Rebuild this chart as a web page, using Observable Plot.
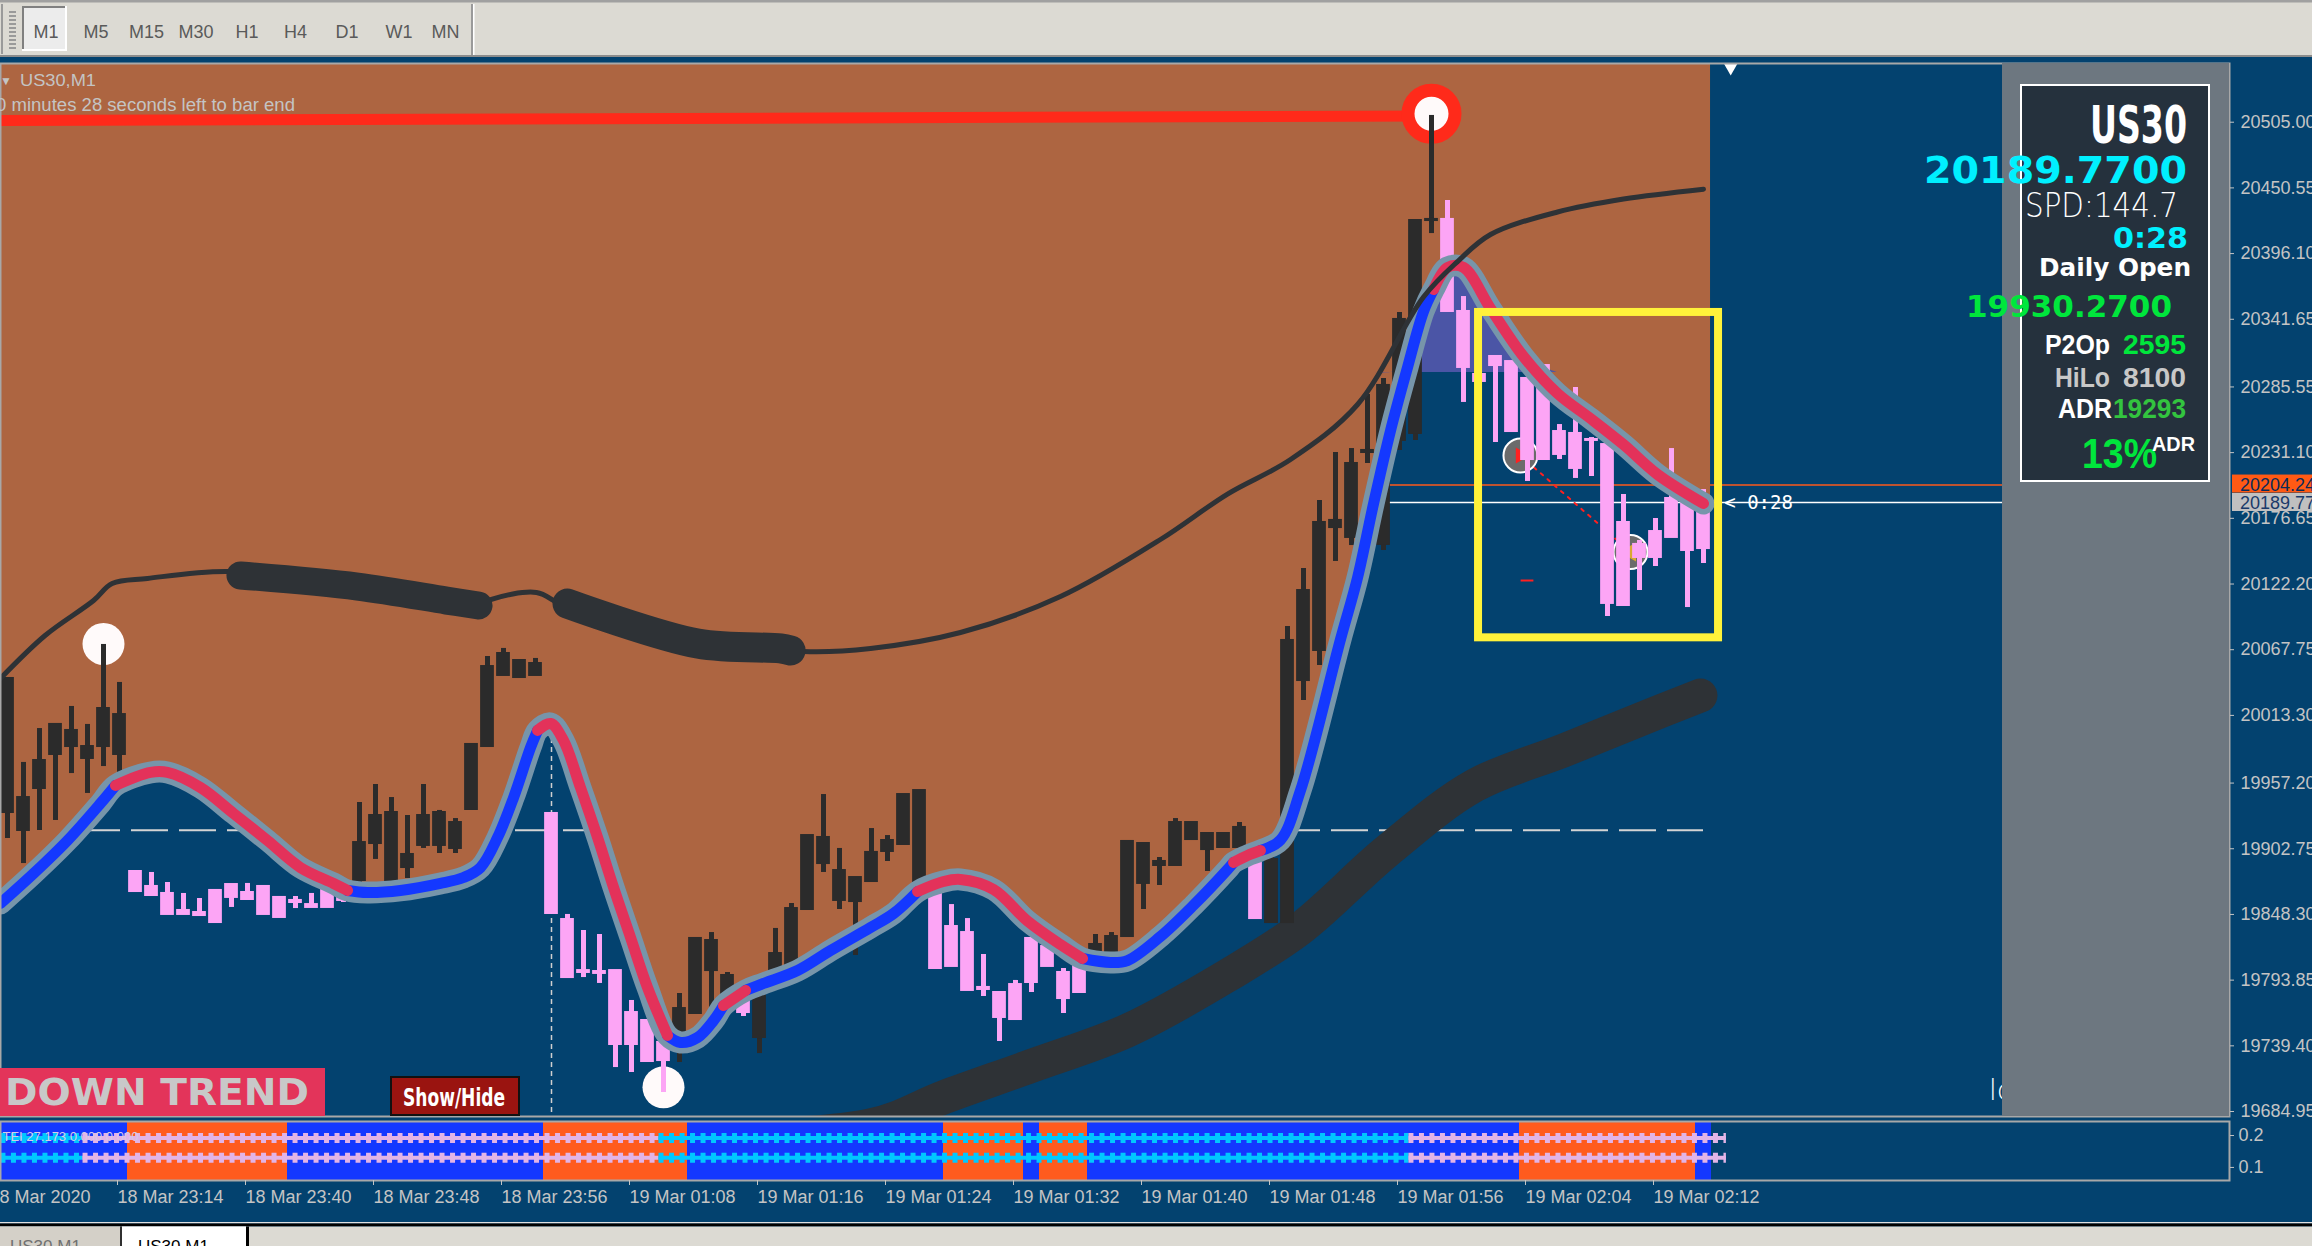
<!DOCTYPE html>
<html>
<head>
<meta charset="utf-8">
<title>US30,M1</title>
<script src="https://cdn.jsdelivr.net/npm/d3@7"></script>
<script src="https://cdn.jsdelivr.net/npm/@observablehq/plot@0.6"></script>
<style>
html,body{margin:0;padding:0;}
body{position:relative;width:2312px;height:1246px;overflow:hidden;background:#03426f;font-family:"Liberation Sans",Arial,sans-serif;}
#main{position:absolute;left:0;top:63px;}
#sub{position:absolute;left:0;top:1116px;}
#overlay{position:absolute;left:0;top:0;}
</style>
</head>
<body>
<div id="main"></div>
<div id="sub"></div>
<script>
// ================= DATA =================
const opens = [19932.8,19917.9,19952.7,19980.9,19987.5,19977.6,19987.5,19980.9,19883.9,19871.5,
19865.7,19851.6,19849.9,19868.2,19873.1,19866.5,19871.5,19862.4,19859.9,19856.5,
19868.2,19865.7,19876.4,19907.1,19876.4,19887.2,19905.5,19905.5,19903.0,19935.3,
19987.5,20046.4,20044.7,20046.4,19932.0,19844.1,19801.8,19801.0,19801.8,19767.0,
19760.4,19742.2,19749.6,19766.2,19801.8,19782.8,19782.8,19746.3,19799.4,19804.3,
19852.4,19890.5,19859.9,19859.0,19875.6,19900.5,19906.3,19874.0,19866.5,19838.3,
19833.3,19787.8,19783.6,19790.2,19828.4,19821.7,19800.2,19805.2,19816.8,19816.8,
19830.0,19874.0,19888.9,19888.9,19910.4,19902.1,19903.8,19903.8,19892.2,19841.6,
19841.6,20042.2,20067.1,20169.0,20160.8,20231.2,20155.0,20241.2,20247.0,20423.5,
20424.4,20348.1,20295.9,20310.8,20306.6,20292.6,20303.3,20248.6,20247.0,20242.0,
20237.8,20173.2,20155.0,20165.7,20193.1,20188.9,20185.6];
const highs = [20043.9,19974.3,20002.4,20005.8,20020.7,20005.8,20072.1,20040.6,19883.9,19883.1,
19874.8,19865.7,19861.5,19868.2,19873.1,19874.0,19871.5,19862.4,19863.2,19865.7,
19868.2,19869.8,19941.1,19956.0,19945.2,19930.3,19956.0,19934.5,19927.8,19989.2,
20062.1,20068.8,20058.8,20060.5,19932.0,19848.3,19835.0,19831.7,19801.8,19777.0,
19760.4,19742.2,19782.8,19828.4,19833.3,19800.2,19782.8,19781.1,19836.7,19857.4,
19913.7,19947.7,19903.0,19878.9,19919.5,19913.7,19947.7,19951.0,19866.5,19856.5,
19844.9,19815.1,19783.6,19793.6,19828.4,19821.7,19803.5,19805.2,19831.7,19833.3,
19908.8,19907.1,19895.5,19927.8,19924.5,19915.4,19915.4,19924.5,19892.2,19911.6,
20087.0,20135.1,20191.4,20231.2,20234.5,20279.3,20292.6,20347.3,20423.5,20510.6,
20440.1,20360.5,20295.9,20310.8,20306.6,20292.6,20303.3,20254.4,20285.1,20243.6,
20237.8,20196.4,20158.3,20176.5,20234.5,20188.9,20200.5];
const lows = [19911.3,19890.5,19917.9,19926.2,19965.1,19948.6,19970.9,19965.1,19867.3,19864.0,
19848.3,19848.3,19847.4,19841.6,19854.1,19860.7,19848.3,19845.8,19853.2,19854.1,
19854.1,19858.2,19874.8,19893.9,19874.8,19878.1,19903.0,19898.8,19898.8,19935.3,
19987.5,20046.4,20044.7,20046.4,19849.1,19796.0,19796.0,19791.1,19721.4,19717.3,
19726.4,19700.7,19725.6,19766.2,19766.2,19782.8,19763.7,19733.0,19796.0,19804.3,
19852.4,19883.1,19852.4,19814.3,19875.6,19892.2,19906.3,19874.0,19803.5,19805.2,
19785.3,19780.3,19743.0,19761.2,19783.6,19805.2,19766.2,19783.6,19816.8,19816.8,
19830.0,19852.4,19872.3,19888.9,19910.4,19883.9,19903.8,19903.8,19844.9,19841.6,
19841.6,20025.6,20054.7,20140.9,20154.1,20222.1,20150.0,20232.9,20241.2,20412.7,
20348.1,20272.7,20290.1,20239.5,20248.6,20207.2,20225.4,20225.4,20209.7,20211.3,
20095.3,20104.4,20116.8,20136.7,20160.8,20102.7,20139.2];
const closes = [20043.9,19945.2,19975.9,20005.8,20000.8,19987.5,20019.0,20014.0,19867.3,19864.0,
19848.3,19848.3,19847.4,19841.6,19862.4,19860.7,19848.3,19845.8,19858.2,19854.1,
19854.1,19859.9,19907.9,19930.3,19932.8,19898.0,19930.3,19932.8,19924.5,19989.2,
20053.8,20064.6,20058.8,20056.3,19849.1,19796.0,19800.2,19799.4,19740.5,19740.5,
19726.4,19727.2,19770.3,19828.4,19826.7,19797.7,19767.0,19781.1,19815.9,19853.2,
19913.7,19912.1,19884.7,19878.9,19899.7,19909.6,19947.7,19951.0,19803.5,19805.2,
19785.3,19786.1,19762.9,19761.2,19791.9,19805.2,19778.6,19783.6,19823.4,19830.0,
19908.8,19907.1,19892.2,19924.5,19924.5,19915.4,19915.4,19920.4,19844.9,19893.9,
20075.4,20116.8,20173.2,20174.9,20222.1,20232.9,20286.8,20341.5,20423.5,20424.4,
20348.1,20301.7,20290.1,20303.3,20248.6,20225.4,20225.4,20229.6,20218.0,20241.2,
20106.1,20104.4,20144.2,20144.2,20160.8,20150.0,20151.6];

const timeTickBars = [-1, 7, 15, 23, 31, 39, 47, 55, 63, 71, 79, 87, 95, 103];
const timeLabels = ["18 Mar 2020","18 Mar 23:14","18 Mar 23:40","18 Mar 23:48","18 Mar 23:56","19 Mar 01:08","19 Mar 01:16","19 Mar 01:24","19 Mar 01:32","19 Mar 01:40","19 Mar 01:48","19 Mar 01:56","19 Mar 02:04","19 Mar 02:12"];
const priceTicks = [20505.00,20450.55,20396.10,20341.65,20285.55,20231.10,20176.65,20122.20,20067.75,20013.30,19957.20,19902.75,19848.30,19793.85,19739.40,19684.95];

// smoothed trend line (knots: bar index, price)
const smoothBars = [-0.44,1.63,3.75,5.81,6.75,8.94,10.0,12.06,14.13,16.25,18.31,20.38,21.25,22.5,24.56,27.06,28.5,29.56,30.63,31.63,32.69,33.13,33.94,34.75,35.81,36.88,37.88,38.94,40.0,41.25,42.06,43.13,44.13,44.75,46.13,47.25,49.38,51.44,53.94,55.38,56.88,58.5,59.56,61.63,63.75,65.81,67.19,68.94,70.0,72.06,74.13,76.25,76.63,77.5,78.31,79.56,80.81,83.31,84.38,85.38,86.44,87.5,88.5,89.13,90.0,91.0,92.69,94.75,96.88,98.94,101.0,103.13,106.0];
const smoothVals = [19857.4,19882.2,19909.6,19940.3,19955.2,19966.0,19966.0,19953.5,19932.0,19909.6,19887.2,19874.0,19868.2,19866.5,19868.2,19874.0,19878.9,19887.2,19912.1,19945.2,19986.7,20000.8,20006.6,19992.5,19953.5,19912.1,19870.6,19829.2,19787.8,19748.0,19742.2,19746.3,19760.4,19772.8,19785.3,19791.1,19801.8,19818.4,19837.5,19849.1,19867.3,19875.6,19877.3,19869.0,19842.9,19823.4,19811.8,19808.5,19810.1,19830.0,19856.0,19885.6,19891.4,19897.2,19901.3,19910.0,19951.0,20076.2,20127.6,20188.9,20249.4,20301.7,20348.1,20366.3,20384.6,20384.6,20350.6,20310.8,20280.1,20259.4,20237.8,20213.0,20188.9];
const redSegments  = [[6.75,21.25],[33.13,41.25],[44.75,46.13],[56.88,67.19],[76.63,78.31],[89.13,106.0]];
const blueSegments = [[-0.44,6.75],[21.25,33.13],[41.25,44.75],[46.13,56.88],[67.19,76.63],[78.31,89.13]];
const brownEndBar = 106.44;   // the shaded zone ends just after the last bar

// thin moving average and its thick stretches
const maBars = [-0.44,2.35,5.38,6.54,8.75,13.81,21.88,27.44,29.56,30.25,33.06,34.75,43.13,48.31,49.75,53.94,59.56,65.81,72.06,76.25,80.19,84.38,88.5,90.63,92.69,96.88,101.0,106.0];
const maVals = [20043.9,20079.5,20108.5,20122.6,20126.8,20132.6,20120.1,20108.5,20104.4,20109.4,20115.2,20104.4,20072.9,20068.8,20066.3,20068.8,20082.0,20111.8,20159.1,20196.8,20225.4,20271.0,20360.1,20389.5,20411.9,20430.6,20441.3,20449.5];
const blob1Bars = [14.56,21.88,27.44,29.44];
const blob1Vals = [20129.3,20120.1,20108.5,20104.4];
const blob2Bars = [35.0,43.13,48.31,48.94];
const blob2Vals = [20106.0,20072.9,20068.8,20067.1];
// slow moving average (thick lower band)
const slowBars = [20.63,37.06,53.94,58.56,64.06,70.0,76.25,80.81,86.19,91.69,97.25,101.88,105.81];
const slowVals = [19660.0,19663.0,19673.5,19697.0,19723.1,19752.1,19797.7,19836.7,19900.5,19955.2,19984.2,20009.1,20029.8];

const resistBars = [-0.44, 89];
const resistVals = [20506.4, 20510.1];
const ask = 20204.24, bid = 20189.77, dailyLevel = 19918.0, purpleLevel = 20297.5;
const sessionBar = 34;
const pivotBars = [6, 41], pivotVals = [20072.5, 19705.0];
const peakBar = 89, peakVal = 20512.0;
const tradeBars = [94.56, 101.44], tradeVals = [20228.7, 20148.7];
const boxBars = [91.94, 106.94], boxVals = [20347.3, 20077.6];

// sub-window (trend strip)
const trendFrom  = [0, 8, 18, 34, 43, 59, 64, 65, 68, 95, 106];
const trendTo    = [7, 17, 33, 42, 58, 63, 64, 67, 94, 105, 106];
const trendState = ["up","down","up","down","up","down","up","down","up","down","up"];
const oscFrom  = [-0.44, 4.69, 40.69, 87.56];
const oscTo    = [4.69, 40.69, 87.56, 107.4];
const oscState = ["up","down","up","down"];
const oscLevels = [0.192, 0.130];
const oscTicks = [0.1, 0.2];
const timeframes = ["M1","M5","M15","M30","H1","H4","D1","W1","MN"];

// ================= BUILD =================
const N = opens.length;
const BROWN = "#ad6541", DARK = "#2b2b2b", PINK = "#fca5f5";
const candles = opens.map((o, i) => ({i, o, h: highs[i], l: lows[i], c: closes[i], col: closes[i] >= o ? DARK : PINK}));
const pts = (bs, vs) => bs.map((b, k) => ({b, v: vs[k]}));
const knots = pts(smoothBars, smoothVals);
const brownKnots = knots.concat([{b: brownEndBar, v: smoothVals[smoothVals.length - 1]}]);
const segRows = segs => segs.flatMap(([a, z], s) => knots.filter(k => k.b >= a - 1e-6 && k.b <= z + 1e-6).map(k => ({...k, s})));
const yTop = 20553.66, yBot = 19680.82;
const xDomain = [-7 / 16, 2222 / 16];
const CURVE = "catmull-rom";
const baseStyle = {background: "transparent", overflow: "visible", fontFamily: "'Liberation Sans', Arial, sans-serif"};

const mainPlot = Plot.plot({
  width: 2312, height: 1053,
  marginTop: 0, marginBottom: 0, marginLeft: 0, marginRight: 83,
  x: {domain: xDomain, axis: null},
  y: {domain: [yBot, yTop]},
  color: {type: "identity"},
  style: baseStyle,
  marks: [
    Plot.ruleY([ask], {stroke: "#ff5a1a", strokeWidth: 1.5}),
    Plot.ruleY([bid], {stroke: "#ffffff", strokeWidth: 1.5}),
    Plot.ruleY([dailyLevel], {x1: 4.75, x2: N - 1, stroke: "#d4d4d4", strokeWidth: 2, strokeDasharray: "37,11"}),
    Plot.ruleX([sessionBar], {stroke: "#cfcfcf", strokeWidth: 1.5, strokeDasharray: "5,4"}),
    Plot.areaY(brownKnots, {x: "b", y1: "v", y2: yTop, curve: CURVE, fill: BROWN}),
    Plot.areaY(knots.filter(k => k.b >= 85 && k.b <= 98), {x: "b", y1: purpleLevel, y2: d => Math.max(d.v, purpleLevel), curve: CURVE, fill: "#4b55a6"}),
    Plot.line(pts(slowBars, slowVals), {x: "b", y: "v", curve: CURVE, stroke: "#2e3236", strokeWidth: 34, strokeLinecap: "round", clip: true}),
    Plot.line(pts(resistBars, resistVals), {x: "b", y: "v", stroke: "#ff2a1a", strokeWidth: 11}),
    Plot.dot(pts(pivotBars, pivotVals), {x: "b", y: "v", r: 21, fill: "#fffafa"}),
    Plot.dot([{b: peakBar, v: peakVal}], {x: "b", y: "v", r: 23.5, fill: "#fffafa", stroke: "#ff2a1a", strokeWidth: 13}),
    Plot.line(pts(tradeBars, tradeVals), {x: "b", y: "v", stroke: "#ff2020", strokeWidth: 2, strokeDasharray: "3,6"}),
    Plot.dot(pts(tradeBars, tradeVals), {x: "b", y: "v", r: 17, fill: "#6b6b6b", stroke: "#ffffff", strokeWidth: 2}),
    Plot.dot([{b: tradeBars[0], v: tradeVals[0]}], {x: "b", y: "v", symbol: "triangle", rotate: 90, r: 6, fill: "#ff2020"}),
    Plot.dot([{b: tradeBars[1], v: tradeVals[1]}], {x: "b", y: "v", symbol: "triangle", rotate: -90, r: 7, fill: "#d9a832"}),
    Plot.ruleY([20125.1], {x1: 94.6, x2: 95.4, stroke: "#ff2020", strokeWidth: 2}),
    Plot.ruleX(candles, {x: "i", y1: "l", y2: "h", stroke: "col", strokeWidth: 5}),
    Plot.rect(candles, {x1: d => d.i - 0.43, x2: d => d.i + 0.43, y1: d => Math.min(d.o, d.c), y2: d => Math.max(d.o, d.c), fill: "col", insetTop: -1, insetBottom: -1}),
    Plot.line(knots, {x: "b", y: "v", curve: CURVE, stroke: "#7795aa", strokeWidth: 22, strokeLinecap: "round", strokeLinejoin: "round"}),
    Plot.line(segRows(blueSegments), {x: "b", y: "v", z: "s", curve: CURVE, stroke: "#1438ff", strokeWidth: 11}),
    Plot.line(segRows(redSegments), {x: "b", y: "v", z: "s", curve: CURVE, stroke: "#e3325a", strokeWidth: 11}),
    Plot.line(pts(maBars, maVals), {x: "b", y: "v", curve: CURVE, stroke: "#2e3236", strokeWidth: 5}),
    Plot.line(pts(blob1Bars, blob1Vals), {x: "b", y: "v", curve: CURVE, stroke: "#2e3236", strokeWidth: 28, strokeLinecap: "round"}),
    Plot.line(pts(blob2Bars, blob2Vals), {x: "b", y: "v", curve: CURVE, stroke: "#2e3236", strokeWidth: 30, strokeLinecap: "round"}),
    Plot.rect([{x1: boxBars[0], x2: boxBars[1], y1: boxVals[1], y2: boxVals[0]}], {x1: "x1", x2: "x2", y1: "y1", y2: "y2", fill: "none", stroke: "#fff23a", strokeWidth: 8}),
    Plot.text([{b: 107.3, v: bid, t: "< 0:28"}], {x: "b", y: "v", text: "t", fill: "#ffffff", fontSize: 19, textAnchor: "start", fontFamily: "'DejaVu Sans Mono', monospace"}),
    Plot.dot([{b: 107.7, v: 20550.2}], {x: "b", y: "v", symbol: "triangle", rotate: 180, r: 5, fill: "#ffffff"}),
    Plot.frame({stroke: "#a8a8a8", strokeWidth: 2}),
    Plot.axisY(priceTicks, {anchor: "right", tickSize: 4, tickPadding: 7, tickFormat: d => d.toFixed(2), color: "#c4c4c4", fontSize: 18, label: null})
  ]
});
document.getElementById("main").append(mainPlot);

const trendRows = trendFrom.map((f, k) => ({x1: f - 0.5, x2: trendTo[k] + 0.5, c: trendState[k] === "down" ? "#ff5b1e" : "#1438ff"}));
const oscRows = [];
oscFrom.forEach((f, k) => oscLevels.forEach((L, j) => {
  const c = oscState[k] === "down" ? "#e2b4e6" : "#00c8ff";
  oscRows.push({x: f, y: L, z: k + "_" + j, c}, {x: oscTo[k], y: L, z: k + "_" + j, c});
}));

const subPlot = Plot.plot({
  width: 2312, height: 106,
  marginTop: 5, marginBottom: 42, marginLeft: 0, marginRight: 83,
  x: {domain: xDomain},
  y: {domain: [0.059, 0.244]},
  color: {type: "identity"},
  style: baseStyle,
  marks: [
    Plot.rect(trendRows, {x1: "x1", x2: "x2", y1: 0.059, y2: 0.244, fill: "c"}),
    Plot.line(oscRows, {x: "x", y: "y", z: "z", stroke: "c", strokeWidth: 4, strokeLinecap: "butt"}),
    Plot.line(oscRows, {x: "x", y: "y", z: "z", stroke: "c", strokeWidth: 10, strokeDasharray: "5,5.5", strokeLinecap: "butt"}),
    Plot.text(["TEI 27.173 0.000 0.000"], {frameAnchor: "top-left", dx: 2, dy: 10, text: d => d, fill: "#d8c8e6", fontSize: 13, textAnchor: "start"}),
    Plot.frame({stroke: "#a8a8a8", strokeWidth: 2}),
    Plot.axisY(oscTicks, {anchor: "right", tickSize: 4, tickPadding: 5, tickFormat: d => d.toFixed(1), color: "#c4c4c4", fontSize: 18, label: null}),
    Plot.axisX(timeTickBars, {anchor: "bottom", tickSize: 5, tickPadding: 5, tickFormat: d => timeLabels[timeTickBars.indexOf(d)], textAnchor: "start", dx: -2, color: "#c4c4c4", fontSize: 18, label: null})
  ]
});
document.getElementById("sub").append(subPlot);

// ================= OVERLAY (toolbar, labels, info panel) =================
const ov = d3.select("body").append("svg").attr("id", "overlay").attr("width", 2312).attr("height", 1246);
function R(x, y, w, h, fill, extra = {}) { const r = ov.append("rect").attr("x", x).attr("y", y).attr("width", w).attr("height", h).attr("fill", fill); for (const k in extra) r.attr(k, extra[k]); return r; }
function T(s, x, y, o = {}) {
  const t = ov.append("text").attr("x", x).attr("y", y).text(s)
    .attr("font-family", o.family || "'Liberation Sans', Arial, sans-serif")
    .attr("font-size", o.size || 16).attr("fill", o.fill || "#fff");
  if (o.weight) t.attr("font-weight", o.weight);
  if (o.len) t.attr("textLength", o.len).attr("lengthAdjust", "spacingAndGlyphs");
  if (o.anchor) t.attr("text-anchor", o.anchor);
  return t;
}
// toolbar
R(0, 0, 2312, 55, "#dcdad3");
R(0, 0, 2312, 2.5, "#a0a0a0");
R(0, 55, 2312, 2, "#8c8c8c");
R(1, 4, 2, 50, "#9a9a9a");
for (let y = 11; y < 48; y += 4) R(9, y, 7, 2, "#9a9a9a");
R(22, 6, 45, 45, "#ececec");
R(22, 6, 45, 2, "#808080"); R(22, 6, 2, 45, "#808080");
R(22, 49, 45, 2, "#ffffff"); R(65, 6, 2, 45, "#ffffff");
const tfCenters = [46, 96, 146.5, 196, 247, 295.5, 347, 399, 445.5];
timeframes.forEach((s, k) => T(s, tfCenters[k], 38, {size: 18, fill: "#5a5a5a", anchor: "middle"}));
R(471, 4, 2, 51, "#9a9a9a"); R(473, 4, 1.5, 51, "#ffffff");

// chart caption
T("\u25BC", 0, 85, {size: 12, fill: "#c4c4c4"});
T("US30,M1", 20, 86, {size: 17, fill: "#c4c4c4", len: 76});
T("0 minutes 28 seconds left to bar end", -4, 111, {size: 18, fill: "#c4c4c4", len: 299});

// status boxes
R(0, 1068, 325, 48, "#e3345a");
T("DOWN TREND", 5, 1105, {size: 38, weight: "bold", family: "'DejaVu Sans', sans-serif", fill: "#c8c8c8", len: 304});
R(391, 1077, 128, 38, "#9a1410", {stroke: "#111", "stroke-width": 2});
T("Show/Hide", 403, 1106, {size: 24, weight: "bold", family: "'Liberation Sans Narrow','DejaVu Sans Condensed',sans-serif", fill: "#ffffff", len: 102});
T("lo", 1989, 1100, {size: 28, fill: "#ffffff", weight: 200, family: "'DejaVu Sans', sans-serif"});

// info panel
R(2002, 63, 227, 1053, "#6d7780");
R(2021, 85, 188, 396, "#25313d", {stroke: "#ffffff", "stroke-width": 2});
const DV = "'DejaVu Sans', sans-serif";
T("US30", 2090, 143, {size: 52, weight: "bold", family: "'Liberation Sans Narrow','DejaVu Sans Condensed',sans-serif", fill: "#ffffff", len: 97});
T("20189.7700", 1924, 183, {size: 38, weight: "bold", family: DV, fill: "#00f0ff", len: 263});
T("SPD:144.7", 2025, 217, {size: 34, weight: 200, family: DV, fill: "#ffffff", len: 153});
T("0:28", 2113, 248, {size: 29, weight: "bold", family: DV, fill: "#00f0ff", len: 75});
T("Daily Open", 2039, 276, {size: 24, weight: "bold", family: DV, fill: "#ffffff", len: 152});
T("19930.2700", 1966, 317, {size: 30, weight: "bold", family: DV, fill: "#00e63c", len: 206});
T("P2Op", 2045, 354, {size: 27, weight: "bold", fill: "#ffffff", len: 65});
T("2595", 2123, 354, {size: 27, weight: "bold", fill: "#00e63c", len: 63});
T("HiLo", 2055, 387, {size: 27, weight: "bold", fill: "#c8c8c8", len: 55});
T("8100", 2123, 387, {size: 27, weight: "bold", fill: "#c8c8c8", len: 63});
T("ADR", 2058, 418, {size: 27, weight: "bold", fill: "#ffffff", len: 54});
T("19293", 2113, 418, {size: 27, weight: "bold", fill: "#33c43f", len: 73});
T("13%", 2082, 468, {size: 42, weight: "bold", fill: "#00e63c", len: 75});
T("ADR", 2152, 451, {size: 20, weight: "bold", fill: "#ffffff", len: 43});

// price tags on the axis
const ys = mainPlot.scale("y");
const yAsk = 63 + ys.apply(ask), yBid = 63 + ys.apply(bid);
R(2232, yAsk - 10, 80, 18, "#ff5a14");
T(ask.toFixed(2), 2240, yAsk + 6, {size: 18, fill: "#0a2a5a"});
R(2232, yBid - 9, 80, 18, "#c0c0c0");
T(bid.toFixed(2), 2240, yBid + 7, {size: 18, fill: "#1a3a6a"});

// bottom tabs
R(0, 1222, 2312, 1.5, "#e0e0e0");
R(0, 1223.5, 2312, 3, "#000000");
R(0, 1226.5, 2312, 20, "#dcdad3");
R(0, 1226.5, 120, 20, "#d4d0c8");
R(120, 1226.5, 2, 20, "#303030");
R(122, 1226.5, 124, 20, "#ffffff");
R(246, 1226.5, 3, 20, "#000000");
T("US30,M1", 10, 1252, {size: 17, fill: "#707070"});
T("US30,M1", 138, 1252, {size: 17, fill: "#000000"});
</script>
</body>
</html>
